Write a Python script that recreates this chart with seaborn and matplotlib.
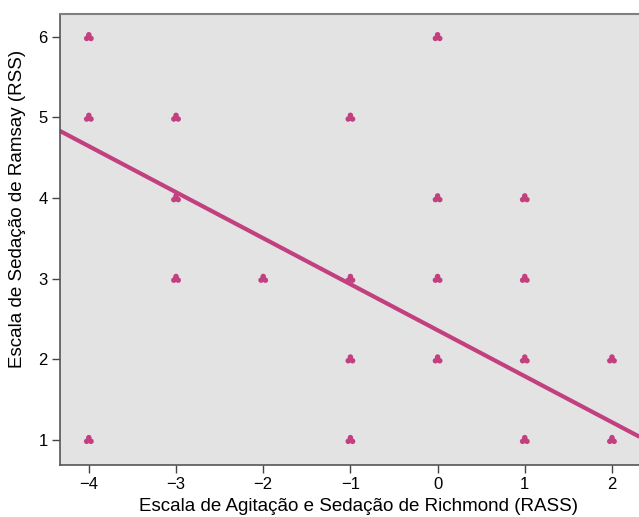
import numpy as np
import pandas as pd
import seaborn as sns
import matplotlib.pyplot as plt
from matplotlib.path import Path

# RASS vs RSS observations (one sunflower per distinct pair)
rass = [-4, -4, -4, -3, -3, -3, -2, -1, -1, -1, -1, 0, 0, 0, 0, 1, 1, 1, 1, 2, 2]
rss = [6, 5, 1, 5, 4, 3, 3, 5, 3, 2, 1, 6, 4, 3, 2, 4, 3, 2, 1, 2, 1]

# fitted line
fit_intercept = 2.36
fit_slope = -0.571

x_ticks = [-4, -3, -2, -1, 0, 1, 2]
y_ticks = [1, 2, 3, 4, 5, 6]

df = pd.DataFrame({"RASS": rass, "RSS": rss})

# three-dot "sunflower" marker
circ = Path.circle((0, 0), 0.5)
parts = []
for cx, cy in [(0, 0.4), (-0.4, -0.28), (0.4, -0.28)]:
    parts.append(Path(circ.vertices + [cx, cy], circ.codes))
sunflower = Path.make_compound_path(*parts)

sns.set_style("white")
plt.rcParams["font.family"] = ["Liberation Sans", "DejaVu Sans"]

col = "#c2407f"
fig = plt.figure(figsize=(6.39, 5.17), dpi=100)
ax = fig.add_axes([0.094, 0.101, 0.906, 0.872])
ax.set_facecolor("#e3e3e3")

sns.scatterplot(data=df, x="RASS", y="RSS", marker=sunflower, s=50,
                color=col, edgecolor="none", ax=ax, zorder=3)

xl = np.array([-4.33, 2.31])
ax.plot(xl, fit_intercept + fit_slope * xl, color=col, lw=3, zorder=2)

ax.set_xlim(-4.33, 2.31)
ax.set_ylim(0.69, 6.285)
ax.set_xticks(x_ticks)
ax.set_xticklabels([str(t).replace("-", "\u2212") for t in x_ticks])
ax.set_yticks(y_ticks)
ax.tick_params(axis="both", direction="out", length=6, width=1,
               color="#444444", labelcolor="black", labelsize=12, pad=3,
               bottom=True, left=True)

for s in ["left", "bottom"]:
    ax.spines[s].set_color("#555555")
    ax.spines[s].set_linewidth(1.2)
ax.spines["top"].set_color("#808080")
ax.spines["top"].set_linewidth(1.5)
ax.spines["right"].set_visible(False)

ax.set_xlabel("Escala de Agitação e Sedação de Richmond (RASS)", fontsize=13.5,
              color="black")
ax.set_ylabel("Escala de Sedação de Ramsay (RSS)", fontsize=13.5,
              color="black")
ax.xaxis.set_label_coords(0.516, -0.074)
ax.yaxis.set_label_coords(-0.059, 0.567)

fig.savefig("out.png", dpi=100)
